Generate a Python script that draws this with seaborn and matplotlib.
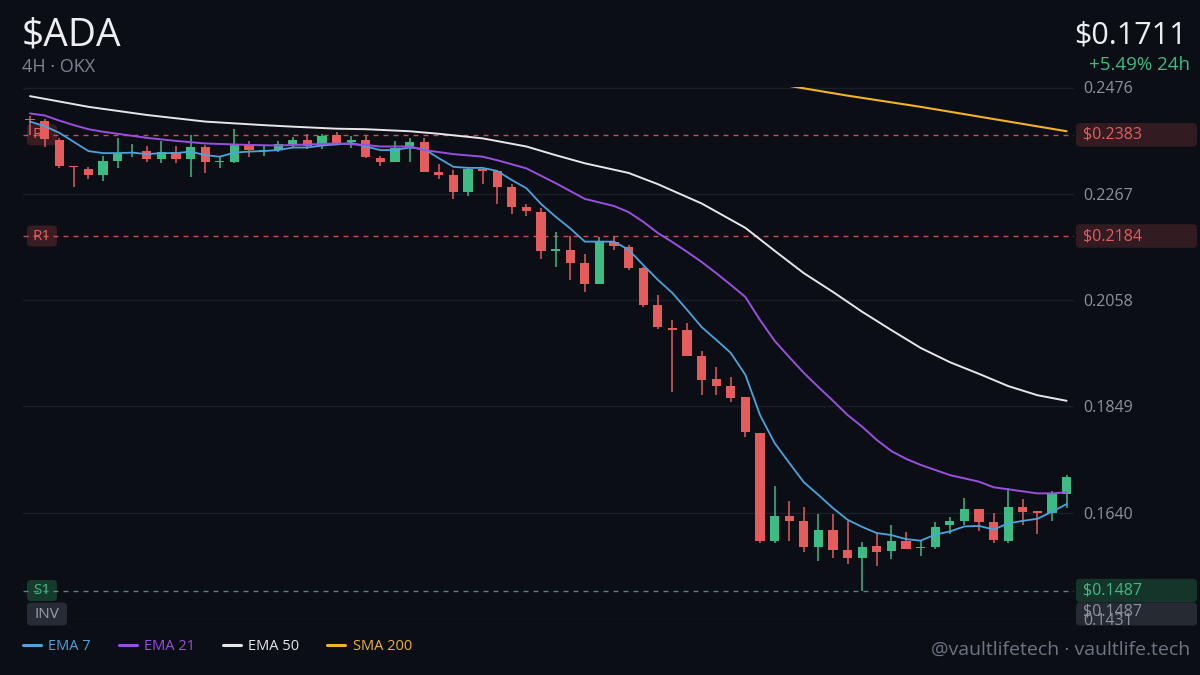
import matplotlib
matplotlib.use("Agg")
import matplotlib.pyplot as plt
import numpy as np
import seaborn as sns
from matplotlib.patches import FancyBboxPatch
from matplotlib.lines import Line2D

# ---- data (4H candles) ----
opens = [0.2414, 0.2410, 0.2373, 0.2322, 0.2316, 0.2304, 0.2332, 0.2347, 0.2351, 0.2335,
         0.2349, 0.2335, 0.2359, 0.2329, 0.2330, 0.2365, 0.2351, 0.2353, 0.2365, 0.2373,
         0.2361, 0.2383, 0.2369, 0.2373, 0.2337, 0.2330, 0.2359, 0.2369, 0.2310, 0.2304,
         0.2271, 0.2316, 0.2312, 0.2280, 0.2241, 0.2231, 0.2155, 0.2157, 0.2131, 0.2090,
         0.2172, 0.2162, 0.2121, 0.2048, 0.2003, 0.1999, 0.1948, 0.1903, 0.1889, 0.1868,
         0.1797, 0.1584, 0.1634, 0.1624, 0.1573, 0.1606, 0.1567, 0.1551, 0.1575, 0.1565,
         0.1584, 0.1570, 0.1573, 0.1616, 0.1624, 0.1647, 0.1622, 0.1584, 0.1651, 0.1641,
         0.1640, 0.1677]
highs = [0.2420, 0.2414, 0.2377, 0.2322, 0.2320, 0.2341, 0.2377, 0.2365, 0.2361, 0.2371,
         0.2361, 0.2383, 0.2363, 0.2339, 0.2394, 0.2371, 0.2361, 0.2371, 0.2379, 0.2385,
         0.2385, 0.2389, 0.2381, 0.2381, 0.2341, 0.2371, 0.2377, 0.2377, 0.2326, 0.2314,
         0.2320, 0.2316, 0.2314, 0.2286, 0.2247, 0.2239, 0.2192, 0.2184, 0.2149, 0.2182,
         0.2184, 0.2166, 0.2123, 0.2068, 0.2019, 0.2013, 0.1958, 0.1927, 0.1907, 0.1868,
         0.1797, 0.1693, 0.1663, 0.1651, 0.1638, 0.1638, 0.1624, 0.1583, 0.1600, 0.1616,
         0.1602, 0.1586, 0.1622, 0.1632, 0.1669, 0.1647, 0.1640, 0.1689, 0.1667, 0.1643,
         0.1683, 0.1714]
lows = [0.2383, 0.2359, 0.2318, 0.2280, 0.2296, 0.2292, 0.2318, 0.2339, 0.2330, 0.2328,
        0.2328, 0.2300, 0.2308, 0.2318, 0.2328, 0.2339, 0.2341, 0.2349, 0.2359, 0.2355,
        0.2355, 0.2363, 0.2357, 0.2337, 0.2322, 0.2330, 0.2330, 0.2310, 0.2296, 0.2257,
        0.2263, 0.2286, 0.2247, 0.2227, 0.2223, 0.2139, 0.2123, 0.2098, 0.2074, 0.2090,
        0.2157, 0.2117, 0.2045, 0.2001, 0.1877, 0.1948, 0.1872, 0.1872, 0.1858, 0.1789,
        0.1581, 0.1581, 0.1584, 0.1563, 0.1545, 0.1551, 0.1539, 0.1487, 0.1535, 0.1549,
        0.1569, 0.1555, 0.1569, 0.1598, 0.1616, 0.1604, 0.1580, 0.1580, 0.1616, 0.1598,
        0.1624, 0.1649]
closes = [0.2412, 0.2375, 0.2322, 0.2319, 0.2304, 0.2332, 0.2347, 0.2349, 0.2335, 0.2349,
          0.2335, 0.2359, 0.2330, 0.2330, 0.2365, 0.2353, 0.2353, 0.2365, 0.2373, 0.2361,
          0.2381, 0.2367, 0.2370, 0.2339, 0.2330, 0.2357, 0.2369, 0.2310, 0.2304, 0.2271,
          0.2316, 0.2312, 0.2280, 0.2241, 0.2233, 0.2155, 0.2157, 0.2131, 0.2090, 0.2172,
          0.2164, 0.2121, 0.2048, 0.2005, 0.2000, 0.1948, 0.1901, 0.1889, 0.1866, 0.1799,
          0.1584, 0.1634, 0.1624, 0.1573, 0.1606, 0.1567, 0.1551, 0.1573, 0.1563, 0.1584,
          0.1569, 0.1571, 0.1612, 0.1624, 0.1647, 0.1622, 0.1586, 0.1651, 0.1641, 0.1640,
          0.1677, 0.1711]

ema7 = [0.2409, 0.2400, 0.2387, 0.2369, 0.2351, 0.2347, 0.2347, 0.2348, 0.2345, 0.2347,
        0.2347, 0.2350, 0.2343, 0.2340, 0.2348, 0.2350, 0.2351, 0.2353, 0.2358, 0.2358,
        0.2362, 0.2364, 0.2367, 0.2360, 0.2353, 0.2353, 0.2358, 0.2355, 0.2337, 0.2320,
        0.2318, 0.2318, 0.2312, 0.2294, 0.2278, 0.2247, 0.2222, 0.2199, 0.2173, 0.2173,
        0.2173, 0.2157, 0.2127, 0.2098, 0.2072, 0.2039, 0.2005, 0.1980, 0.1954, 0.1911,
        0.1832, 0.1777, 0.1738, 0.1700, 0.1675, 0.1649, 0.1626, 0.1612, 0.1600, 0.1596,
        0.1588, 0.1585, 0.1597, 0.1603, 0.1613, 0.1614, 0.1607, 0.1619, 0.1624, 0.1628,
        0.1642, 0.1657]

ema21_idx = [0, 1, 2, 3, 4, 5, 6, 8, 10, 12, 15, 17, 19, 21, 23, 24, 26, 27, 29, 31, 32,
             34, 36, 38, 40, 41, 42, 43, 44, 45, 46, 47, 48, 49, 50, 51, 52, 53, 54, 55,
             56, 57, 58, 59, 60, 61, 63, 65, 66, 67, 69, 70, 71]
ema21 = [0.2425, 0.2421, 0.2411, 0.2402, 0.2394, 0.2389, 0.2385, 0.2377, 0.2371, 0.2366,
         0.2363, 0.2362, 0.2364, 0.2366, 0.2363, 0.2360, 0.2360, 0.2353, 0.2345, 0.2340,
         0.2333, 0.2317, 0.2288, 0.2257, 0.2243, 0.2231, 0.2212, 0.2190, 0.2172, 0.2153,
         0.2133, 0.2111, 0.2088, 0.2064, 0.2019, 0.1978, 0.1946, 0.1915, 0.1887, 0.1860,
         0.1832, 0.1809, 0.1783, 0.1761, 0.1746, 0.1734, 0.1714, 0.1701, 0.1690, 0.1686,
         0.1678, 0.1678, 0.1680]

ema50_idx = [0, 4, 8, 12, 16, 18, 21, 23, 26, 28, 31, 34, 36, 38, 41, 43, 46, 49, 51, 53,
             55, 57, 59, 61, 63, 65, 67, 69, 71]
ema50 = [0.2459, 0.2438, 0.2422, 0.2409, 0.2402, 0.2399, 0.2395, 0.2394, 0.2390, 0.2385,
         0.2376, 0.2360, 0.2343, 0.2327, 0.2308, 0.2286, 0.2248, 0.2200, 0.2155, 0.2111,
         0.2074, 0.2035, 0.1999, 0.1964, 0.1936, 0.1913, 0.1889, 0.1871, 0.1860]

sma200_idx = [51, 56, 61, 66, 71]
sma200 = [0.2484, 0.2460, 0.2438, 0.2414, 0.2390]

y_ticks = [0.2476, 0.2267, 0.2058, 0.1849, 0.1640, 0.1431]
level_names = ["R2", "R1", "S1"]
level_values = [0.2383, 0.2184, 0.1487]
inv_value = 0.1487
last_price = "$0.1711"
change_24h = "+5.49% 24h"

# ---- colours ----
BG = "#0b0e15"
GRID = "#1a1e28"
TICK = "#8b929e"
GREEN = "#3dbb84"
RED = "#e45c5c"
BLUE = "#4ba3e0"
PURPLE = "#9b4fe0"
WHITE = "#e6e7ea"
YELLOW = "#f0b32a"

sns.set_theme(style="dark", rc={"axes.facecolor": BG, "figure.facecolor": BG,
                                "axes.edgecolor": BG, "grid.color": GRID})
plt.rcParams["font.family"] = ["Open Sans", "DejaVu Sans"]

W, H = 1200, 675
fig = plt.figure(figsize=(12, 6.75), dpi=100)
ax = fig.add_axes([22.7 / W, 56 / H, 1051.2 / W, 531.5 / H])

# ---- candles ----
o = np.array(opens)
c = np.array(closes)
x = np.arange(len(o))
cols = np.where(c >= o, GREEN, RED)
ax.vlines(x, lows, highs, colors=cols, lw=1.1, zorder=3)
body_h = np.maximum(np.abs(c - o), 0.0003)
ax.bar(x, body_h, bottom=np.minimum(o, c), width=0.64, color=cols, lw=0, zorder=4)

# ---- moving averages ----
sns.lineplot(x=x, y=ema7, color=BLUE, lw=1.3, ax=ax, zorder=5)
sns.lineplot(x=ema21_idx, y=ema21, color=PURPLE, lw=1.4, ax=ax, zorder=5)
sns.lineplot(x=ema50_idx, y=ema50, color=WHITE, lw=1.4, ax=ax, zorder=5)
sns.lineplot(x=sma200_idx, y=sma200, color=YELLOW, lw=1.5, ax=ax, zorder=5)

# ---- level lines ----
lvl_colors = [RED, RED, "#6b978e"]
for v, lc in zip(level_values, lvl_colors):
    ax.axhline(v, color=lc, lw=1, ls=(0, (3.6, 3.6)), alpha=0.85, zorder=2)

ax.set_xlim(-0.5, 71.5)
ax.set_ylim(0.1431, 0.2476)
ax.set_yticks(y_ticks)
ax.set_yticklabels([f"{t:.4f}" for t in y_ticks])
ax.yaxis.tick_right()
ax.tick_params(axis="y", length=0, pad=6.5, labelsize=11.5, labelcolor=TICK)
ax.set_xticks([])
ax.set_xlabel("")
ax.set_ylabel("")
ax.grid(axis="y", color=GRID, lw=1)
ax.grid(axis="x", visible=False)
for s in ax.spines.values():
    s.set_visible(False)


def fig_y(v):
    return fig.transFigure.inverted().transform(ax.transData.transform((0, v)))[1]


def box(x0, w, yc, h, fc, on_axes, z):
    p = FancyBboxPatch((x0 / W, yc - h / H / 2), w / W, h / H,
                       boxstyle="round,pad=0,rounding_size=0.0033",
                       mutation_aspect=W / H, fc=fc, ec="none",
                       transform=fig.transFigure, zorder=z, clip_on=False)
    if on_axes:
        ax.add_patch(p)
    else:
        fig.add_artist(p)


# left level tags
left_fc = ["#3a1d22", "#3a1d22", "#163a2b"]
left_tc = [RED, RED, GREEN]
for name, v, fc, tc in zip(level_names, level_values, left_fc, left_tc):
    yc = fig_y(v)
    box(27, 30, yc, 21, fc, True, 1)
    ax.text(42 / W, yc, name, color=tc, fontsize=11, ha="center", va="center",
            transform=fig.transFigure, zorder=1.2)
inv_y = 1 - 614 / H
box(27, 40, inv_y, 23, "#272b35", True, 1)
ax.text(47 / W, inv_y, "INV", color="#9aa0ab", fontsize=11, ha="center", va="center",
        transform=fig.transFigure, zorder=1.2)

# right price tags
right_fc = ["#331c21", "#331c21", "#15352a"]
for v, fc, tc in zip(level_values, right_fc, left_tc):
    yc = fig_y(v)
    box(1076, 121, yc, 23.5, fc, False, -1)
    fig.text(1083 / W, yc, f"${v:.4f}", color=tc, fontsize=11.5, va="center", ha="left")
box(1076, 121, inv_y, 23, "#262a33", False, -1)
fig.text(1083 / W, inv_y + 0.004, f"${inv_value:.4f}", color=TICK, fontsize=11.5,
         va="center", ha="left")

# ---- header ----
fig.text(22 / W, 1 - 45 / H, "$ADA", color="#eceef2", fontsize=28, va="baseline")
fig.text(22 / W, 1 - 72 / H, "4H \u00b7 OKX", color="#7d8491", fontsize=13, va="baseline")
fig.text(1187 / W, 1 - 43 / H, last_price, color="#eceef2", fontsize=22,
         ha="right", va="baseline")
fig.text(1190 / W, 1 - 70 / H, change_24h, color=GREEN, fontsize=13.5,
         ha="right", va="baseline")

# ---- legend ----
names = ["EMA 7", "EMA 21", "EMA 50", "SMA 200"]
lcols = [BLUE, PURPLE, WHITE, YELLOW]
handles = [Line2D([], [], color=lc, lw=2.2) for lc in lcols]
ax.legend(handles, names, loc="center left", bbox_to_anchor=(22.7 / W, 1 - 647 / H),
          bbox_transform=fig.transFigure, ncol=4, frameon=False, labelcolor=lcols,
          fontsize=10.5, handlelength=1.25, handletextpad=0.5, columnspacing=1.9,
          borderpad=0, borderaxespad=0)

fig.text(1190 / W, 1 - 655 / H, "@vaultlifetech \u00b7 vaultlife.tech", color="#6e7582",
         fontsize=14, ha="right", va="baseline")

fig.savefig("out.png", dpi=100, facecolor=BG)
